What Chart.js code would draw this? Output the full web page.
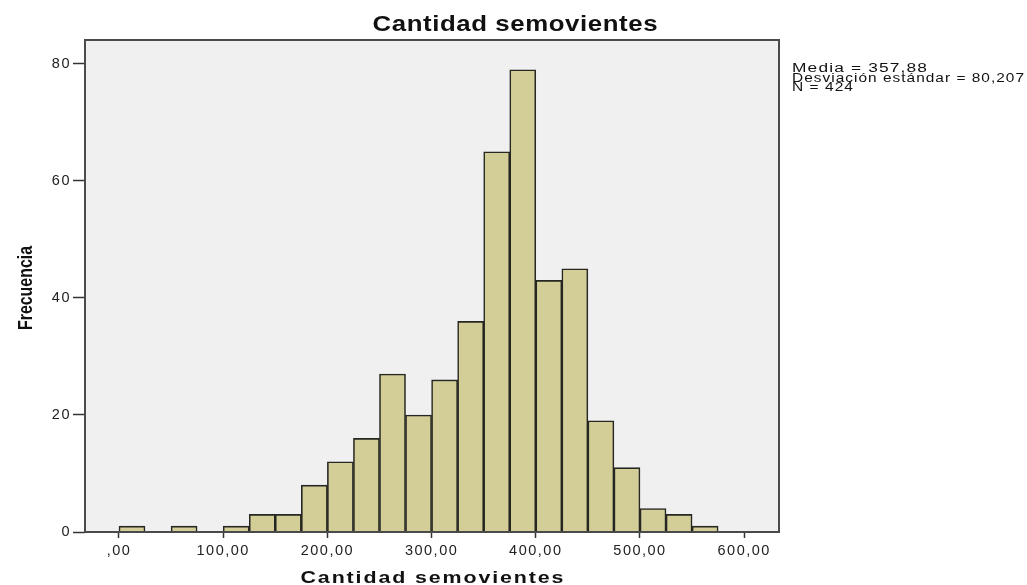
<!DOCTYPE html>
<html>
<head>
<meta charset="utf-8">
<script src="https://cdn.jsdelivr.net/npm/chart.js@4.4.1/dist/chart.umd.min.js"></script>
<style>
  html, body { margin: 0; padding: 0; background: #fff; }
  #wrap { width: 1027px; height: 585px; position: relative; }
</style>
</head>
<body>
<div id="wrap"><canvas id="hist"></canvas></div>
<script>
// histogram data (bin width 25)
const binStarts = [0, 25, 50, 75, 100, 125, 150, 175, 200, 225, 250, 275, 300, 325, 350, 375, 400, 425, 450, 475, 500, 525, 550];
const counts = [1, 0, 1, 0, 1, 3, 3, 8, 12, 16, 27, 20, 26, 36, 65, 79, 43, 45, 19, 11, 4, 3, 1];
const binWidth = 25;

const xTicks = [0, 100, 200, 300, 400, 500, 600];
const yTicks = [0, 20, 40, 60, 80];

const titleText = "Cantidad semovientes";
const xLabel = "Cantidad semovientes";
const yLabel = "Frecuencia";
const statsLines = ["Media = 357,88", "Desviación estándar = 80,207", "N = 424"];

const points = binStarts.map((s, i) => ({ x: s + binWidth / 2, y: counts[i] }));

function fmtX(v) {
  // 0 -> ",00", 100 -> "100,00"
  const s = v.toFixed(2).replace(".", ",");
  return v === 0 ? s.slice(1) : s;
}

// draw text stretched horizontally (SPSS output looks wide)
function drawWide(ctx, text, x, y, font, target, spacing, align) {
  ctx.save();
  ctx.font = font;
  ctx.letterSpacing = spacing + "px";
  const w0 = ctx.measureText(text).width - spacing;
  const k = target / w0;
  const left = align === "center" ? x - target / 2 : x;
  ctx.translate(left, y);
  ctx.scale(k, 1);
  ctx.textAlign = "left";
  ctx.fillText(text, 0, 0);
  ctx.restore();
}

const decor = {
  id: "decor",
  beforeDraw(chart) {
    const { ctx, chartArea: a } = chart;
    ctx.save();
    ctx.fillStyle = "#f0f0f0";
    ctx.fillRect(a.left, a.top, a.right - a.left, a.bottom - a.top);
    ctx.restore();
    // widen tick labels like the SPSS output
    ctx.letterSpacing = "1.5px";
  },
  afterDatasetsDraw(chart) {
    const { ctx, chartArea: a } = chart;
    ctx.letterSpacing = "0px";
    ctx.save();
    ctx.strokeStyle = "#4a4a4a";
    ctx.lineWidth = 2;
    ctx.strokeRect(a.left, a.top, a.right - a.left, a.bottom - a.top);
    ctx.restore();
  },
  afterDraw(chart) {
    const { ctx } = chart;
    ctx.save();
    ctx.fillStyle = "#111";
    ctx.textBaseline = "alphabetic";

    // title
    drawWide(ctx, titleText, 515, 31, "bold 22px 'Liberation Sans'", 285, 0.5, "center");
    // x axis title
    drawWide(ctx, xLabel, 432, 583, "bold 17px 'Liberation Sans'", 263, 1.5, "center");

    // y axis title (rotated, condensed)
    ctx.save();
    ctx.translate(32, 288);
    ctx.rotate(-Math.PI / 2);
    ctx.font = "bold 20px 'Liberation Sans'";
    const w = ctx.measureText(yLabel).width;
    ctx.scale(84 / w, 1);
    ctx.textAlign = "center";
    ctx.fillText(yLabel, 0, 0);
    ctx.restore();

    // stats box
    const widths = [135, 232, 61];
    statsLines.forEach((t, i) => {
      drawWide(ctx, t, 792, 72 + i * 9.5, "12px 'Liberation Sans'", widths[i], 0.8, "left");
    });
    ctx.restore();
  }
};

new Chart(document.getElementById("hist"), {
  type: "bar",
  data: {
    datasets: [{
      data: points,
      backgroundColor: "#d3ce97",
      borderColor: "#262622",
      borderWidth: 1.6,
      barPercentage: 1,
      categoryPercentage: 1
    }]
  },
  options: {
    responsive: true,
    maintainAspectRatio: false,
    animation: false,
    devicePixelRatio: 1,
    layout: { padding: { top: 40, right: 248, left: 0, bottom: 0 } },
    plugins: {
      legend: { display: false },
      tooltip: { enabled: false },
      title: { display: false }
    },
    scales: {
      x: {
        type: "linear",
        offset: false,
        min: -32.6,
        max: 633.4,
        afterBuildTicks: s => { s.ticks = xTicks.map(v => ({ value: v })); },
        afterFit: s => { s.height = 53; },
        grid: { offset: false, drawOnChartArea: false, drawTicks: true, tickLength: 6, tickColor: "#333", tickWidth: 1.5 },
        border: { display: false },
        ticks: {
          color: "#222",
          font: { family: "'Liberation Sans'", size: 14.5 },
          padding: 4,
          maxRotation: 0,
          callback: v => fmtX(v)
        }
      },
      y: {
        min: 0,
        max: 84.1,
        afterBuildTicks: s => { s.ticks = yTicks.map(v => ({ value: v })); },
        afterFit: s => { s.width = 85; },
        grid: { drawOnChartArea: false, drawTicks: true, tickLength: 12, tickColor: "#333", tickWidth: 1.5 },
        border: { display: false },
        ticks: {
          color: "#222",
          font: { family: "'Liberation Sans'", size: 14.5 },
          padding: 2
        }
      }
    }
  },
  plugins: [decor]
});
</script>
</body>
</html>
